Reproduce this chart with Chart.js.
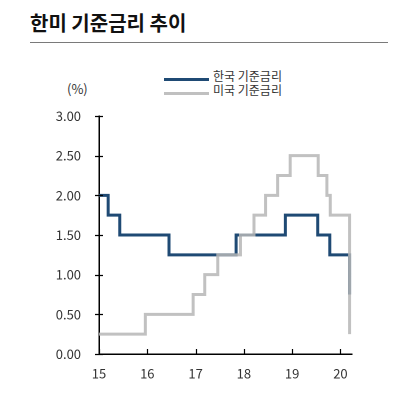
<!DOCTYPE html>
<html>
<head>
<meta charset="utf-8">
<script src="https://cdn.jsdelivr.net/npm/chart.js@4"></script>
<style>
  html, body { margin:0; padding:0; background:#fff; }
  #wrap { position:relative; width:419px; height:410px; overflow:hidden; font-family:"Noto Sans CJK KR","Noto Sans",sans-serif; }
  #title { position:absolute; left:30px; top:8px; font-size:20px; font-weight:bold; color:#111; line-height:30px; }
  #rule { position:absolute; left:30px; top:42px; width:358px; height:0; border-top:1px solid #7a7a7a; }
  #unit { position:absolute; left:67px; top:80px; font-size:13px; color:#333; line-height:18px; }
  .leg { position:absolute; left:164px; font-size:12px; color:#333; line-height:14px; white-space:nowrap; }
  .leg span.sw { display:inline-block; width:45px; height:3px; vertical-align:middle; margin-right:4px; position:relative; top:2px; }
  canvas { position:absolute; left:0; top:0; }
</style>
</head>
<body>
<div id="wrap">
  <div id="title">한미 기준금리 추이</div>
  <div id="rule"></div>
  <div id="unit">(%)</div>
  <div class="leg" style="top:69px;"><span class="sw" style="background:#1f4a74"></span>한국 기준금리</div>
  <div class="leg" style="top:83px;"><span class="sw" style="background:#c0c0c0"></span>미국 기준금리</div>
  <canvas id="c" width="419" height="410"></canvas>
</div>
<script>
// Korea base rate: change dates (decimal year, 2-digit) and new rate levels
const krDates  = [15.0, 15.19, 15.43, 16.45, 17.84, 18.86, 19.53, 19.78, 20.19];
const krRates  = [2.00, 1.75, 1.50, 1.25, 1.50, 1.75, 1.50, 1.25, 0.75];
// US policy rate (upper bound)
const usDates  = [15.0, 15.96, 16.95, 17.19, 17.46, 17.93, 18.21, 18.45, 18.70, 18.96, 19.54, 19.72, 19.79, 20.19];
const usRates  = [0.25, 0.50, 0.75, 1.00, 1.25, 1.50, 1.75, 2.00, 2.25, 2.50, 2.25, 2.00, 1.75, 0.25];
// axis ticks
const xTicks = [15, 16, 17, 18, 19, 20];
const yTicks = [0.00, 0.50, 1.00, 1.50, 2.00, 2.50, 3.00];
const seriesNames = ['한국 기준금리', '미국 기준금리'];

const toPts = (xs, ys) => xs.map((x, i) => ({ x: x, y: ys[i] }));

const tickMarks = {
  id: 'tickMarks',
  afterDraw(chart) {
    const ctx = chart.ctx, xs = chart.scales.x, ys = chart.scales.y;
    ctx.save();
    ctx.strokeStyle = '#000';
    ctx.lineWidth = 1.2;
    ctx.beginPath();
    yTicks.forEach(v => {
      const py = Math.round(ys.getPixelForValue(v)) + 0.5;
      ctx.moveTo(xs.left - 4, py); ctx.lineTo(xs.left + 4, py);
    });
    xTicks.forEach(v => {
      const px = Math.round(xs.getPixelForValue(v)) + 0.5;
      ctx.moveTo(px, ys.bottom); ctx.lineTo(px, ys.bottom - 5);
    });
    ctx.stroke();
    ctx.restore();
  }
};

const font = { family: '"Noto Sans CJK KR","Noto Sans",sans-serif', size: 13 };

new Chart(document.getElementById('c'), {
  type: 'line',
  data: {
    datasets: [
      { label: seriesNames[0], data: toPts(krDates, krRates), borderColor: '#1f4a74', borderWidth: 3, stepped: 'before',
        pointRadius: 0, fill: false, order: 1, borderJoinStyle: 'miter', borderCapStyle: 'butt' },
      { label: seriesNames[1], data: toPts(usDates, usRates), borderColor: 'rgba(182,182,182,0.85)', borderWidth: 3, stepped: 'before',
        pointRadius: 0, fill: false, order: 0, borderJoinStyle: 'miter', borderCapStyle: 'butt' }
    ]
  },
  options: {
    responsive: false,
    animation: false,
    devicePixelRatio: 2,
    layout: { padding: { left: 0, top: 116, right: 67, bottom: 26 } },
    plugins: { legend: { display: false }, tooltip: { enabled: false }, title: { display: false } },
    scales: {
      x: {
        type: 'linear', min: 15, max: 20.24,
        afterFit: s => { s.height = 30; },
        border: { display: true, color: '#000', width: 1.5 },
        grid: { display: false },
        ticks: { stepSize: 1, includeBounds: false, autoSkip: false, maxRotation: 0, padding: 4, color: '#333', font: font,
                 callback: v => String(v) }
      },
      y: {
        min: 0, max: 3,
        afterFit: s => { s.width = 99; },
        border: { display: true, color: '#000', width: 1.5 },
        grid: { display: false },
        ticks: { stepSize: 0.5, padding: 10, color: '#333', font: font, callback: v => Number(v).toFixed(2) }
      }
    }
  },
  plugins: [tickMarks]
});
</script>
</body>
</html>
